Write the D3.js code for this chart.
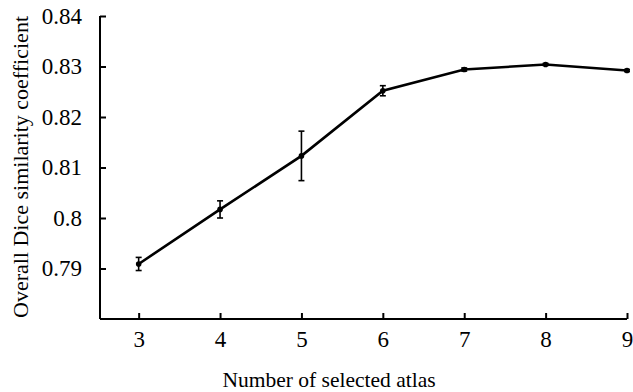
<!DOCTYPE html>
<head>
  <meta charset="utf-8">
  <script src="https://d3js.org/d3.v7.min.js"></script>
  <style>
    body { margin: 0; background: #fff; }
    text { font-family: "Liberation Serif", "Times New Roman", serif; fill: #000; }
  </style>
</head>
<body>
  <svg id="main-svg"></svg>
  <script>
    const svg_width = 633;
    const svg_height = 392;

    // values
    const atlasCount = [3, 4, 5, 6, 7, 8, 9];
    const diceMean = [0.7909, 0.8017, 0.8123, 0.8252, 0.8294, 0.8304, 0.8292];
    const diceErr = [0.0013, 0.0017, 0.0049, 0.0010, 0.0003, 0.0002, 0.0002];
    const yTicks = [0.79, 0.8, 0.81, 0.82, 0.83, 0.84];
    const xTicks = [3, 4, 5, 6, 7, 8, 9];

    var margin = { top: 16, right: 6, bottom: 73, left: 100 };

    var x = d3.scaleLinear()
      .domain([2.525, 9])
      .range([margin.left, svg_width - margin.right]);

    var y = d3.scaleLinear()
      .domain([0.78, 0.84])
      .range([svg_height - margin.bottom, margin.top]);

    var svg = d3.select('#main-svg')
      .attr('width', svg_width)
      .attr('height', svg_height);

    var xAxis = d3.axisBottom(x)
      .tickValues(xTicks)
      .tickSizeInner(-6)
      .tickSizeOuter(0)
      .tickPadding(12)
      .tickFormat(d3.format('d'));

    var yAxis = d3.axisLeft(y)
      .tickValues(yTicks)
      .tickSizeInner(-6)
      .tickSizeOuter(0)
      .tickPadding(18)
      .tickFormat(function(d) { return String(+d.toFixed(2)); });

    var gx = svg.append('g')
      .attr('transform', 'translate(0,' + y(0.78) + ')')
      .call(xAxis);

    var gy = svg.append('g')
      .attr('transform', 'translate(' + margin.left + ',0)')
      .call(yAxis);

    [gx, gy].forEach(function(g) {
      g.attr('font-size', null).attr('font-family', null);
      g.select('.domain').attr('stroke', '#000').attr('stroke-width', 2);
      g.selectAll('.tick line').attr('stroke', '#000').attr('stroke-width', 2);
      g.selectAll('.tick text').style('font-size', '23px').attr('fill', '#000');
    });

    gx.select('.domain').attr('d', 'M' + x.range()[0] + ',0H' + x.range()[1]);
    gy.select('.domain').attr('d', 'M0,' + y(0.78) + 'V' + y(0.84));

    var data = atlasCount.map(function(a, i) {
      return { x: a, y: diceMean[i], e: diceErr[i] };
    });

    var line = d3.line()
      .x(function(d) { return x(d.x); })
      .y(function(d) { return y(d.y); });

    svg.append('path')
      .datum(data)
      .attr('fill', 'none')
      .attr('stroke', '#000')
      .attr('stroke-width', 2.6)
      .attr('d', line);

    var bars = svg.selectAll('.err')
      .data(data)
      .enter().append('g')
      .attr('class', 'err')
      .attr('stroke', '#000')
      .attr('stroke-width', 1.6);

    bars.append('line')
      .attr('x1', function(d) { return x(d.x); })
      .attr('x2', function(d) { return x(d.x); })
      .attr('y1', function(d) { return y(d.y - d.e); })
      .attr('y2', function(d) { return y(d.y + d.e); });

    bars.append('line')
      .attr('x1', function(d) { return x(d.x) - 3; })
      .attr('x2', function(d) { return x(d.x) + 3; })
      .attr('y1', function(d) { return y(d.y - d.e); })
      .attr('y2', function(d) { return y(d.y - d.e); });

    bars.append('line')
      .attr('x1', function(d) { return x(d.x) - 3; })
      .attr('x2', function(d) { return x(d.x) + 3; })
      .attr('y1', function(d) { return y(d.y + d.e); })
      .attr('y2', function(d) { return y(d.y + d.e); });

    svg.selectAll('.dot')
      .data(data)
      .enter().append('circle')
      .attr('class', 'dot')
      .attr('cx', function(d) { return x(d.x); })
      .attr('cy', function(d) { return y(d.y); })
      .attr('r', 2.8)
      .attr('fill', '#000');

    svg.append('text')
      .attr('x', 329)
      .attr('y', 387)
      .attr('text-anchor', 'middle')
      .style('font-size', '21.5px')
      .text('Number of selected atlas');

    svg.append('text')
      .attr('transform', 'translate(28,167) rotate(-90)')
      .attr('text-anchor', 'middle')
      .style('font-size', '22px')
      .text('Overall Dice similarity coefficient');
  </script>
</body>
